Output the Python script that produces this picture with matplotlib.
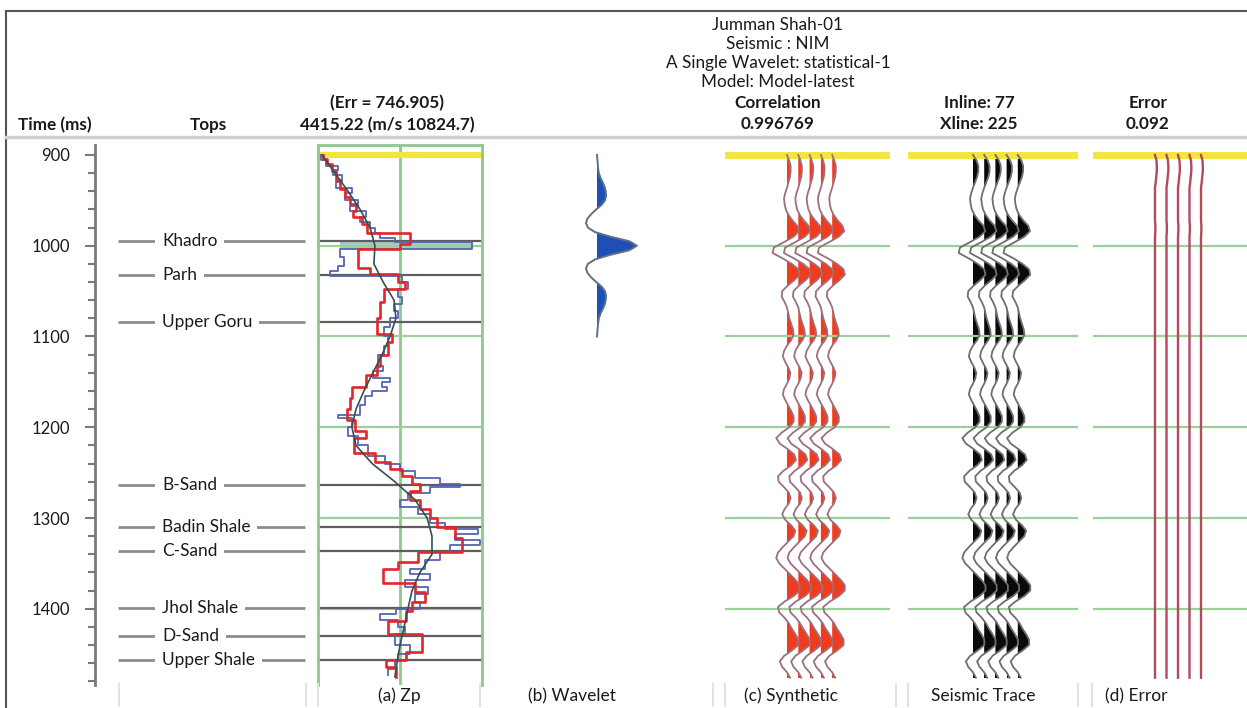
import numpy as np
import matplotlib.pyplot as plt
from matplotlib.lines import Line2D

plt.rcParams['font.family'] = ['Lato', 'DejaVu Sans']

W, H = 1247, 708

# ---- well tops (ms) ----
top_names = ['Khadro', 'Parh', 'Upper Goru', 'B-Sand', 'Badin Shale', 'C-Sand',
             'Jhol Shale', 'D-Sand', 'Upper Shale']
top_times = [995, 1032, 1084, 1264, 1310, 1336, 1399, 1430, 1457]

# ---- Zp logs (m/s), interval tops in ms ----
zp_min, zp_max = 4415.22, 10824.7

red_t = [900, 904, 910, 918, 928, 938, 946, 954, 962, 968, 976, 986, 998, 1004,
         1024, 1031, 1040, 1048, 1062, 1080, 1097, 1106, 1120, 1132, 1142, 1156,
         1168, 1180, 1192, 1204, 1212, 1228, 1238, 1246, 1254, 1262, 1270, 1280,
         1290, 1300, 1310, 1322, 1338, 1348, 1356, 1372, 1382, 1392, 1402, 1414,
         1428, 1448, 1456, 1464, 1475]
red_v = [4610, 4770, 4960, 5120, 5280, 5470, 5670, 5900, 5780, 6140, 6330, 8010,
         7620, 5980, 6450, 7540, 7820, 6990, 6840, 6720, 7310, 7150, 6840, 6720,
         6290, 5740, 5670, 5550, 5860, 6290, 5820, 6640, 7230, 7700, 8090, 8400,
         8010, 8400, 8790, 9070, 9770, 10040, 8320, 7540, 6960, 8210, 8600, 8090,
         7850, 7150, 8480, 7850, 7070, 7460]

blue_t = [900, 905, 912, 916, 922, 930, 936, 942, 950, 956, 962, 968, 974, 980,
          986, 992, 996, 1004, 1012, 1022, 1028, 1033, 1040, 1048, 1056, 1064,
          1072, 1080, 1090, 1100, 1110, 1120, 1132, 1138, 1146, 1150, 1156, 1160,
          1166, 1176, 1186, 1190, 1200, 1210, 1220, 1232, 1240, 1248, 1256, 1262,
          1266, 1272, 1280, 1288, 1296, 1306, 1312, 1318, 1324, 1330, 1338, 1346,
          1356, 1362, 1368, 1376, 1384, 1392, 1400, 1406, 1412, 1420, 1428, 1440,
          1450, 1458, 1466, 1473]
blue_v = [4530, 4730, 5200, 5000, 5350, 5120, 5740, 5470, 5980, 5670, 6290, 6060,
          6450, 6640, 6840, 7420, 10430, 5280, 5430, 5200, 4880, 7700, 7930, 7540,
          7700, 7390, 7540, 7230, 6990, 7150, 6990, 6760, 6960, 6560, 7230, 6920,
          7110, 6530, 6250, 6060, 5200, 5740, 5590, 5980, 6370, 7030, 7620, 8210,
          9180, 9960, 8790, 7930, 7620, 8320, 8790, 9380, 10670, 9770, 10750, 9570,
          9180, 8600, 8010, 8790, 7810, 8710, 8210, 8400, 7460, 6840, 7540, 7820,
          7420, 8010, 7540, 7420, 7150]

model_t = [900, 920, 940, 960, 980, 1000, 1020, 1040, 1060, 1080, 1100, 1120,
           1140, 1160, 1180, 1200, 1220, 1240, 1260, 1280, 1300, 1320, 1340, 1360,
           1380, 1400, 1420, 1440, 1460, 1475]
model_v = [4570, 5080, 5590, 6060, 6450, 6640, 6600, 6960, 7390, 7460, 7230, 6920,
           6560, 6210, 5900, 5740, 5900, 6530, 7420, 8210, 8680, 8870, 8870, 8400,
           8090, 7930, 7780, 7620, 7500, 7420]

# ---- wavelet (lag in ms, normalised amplitude) ----
wav_lag = np.arange(-100, 101, 5)
wav_amp = [0.00, 0.01, 0.02, 0.03, 0.05, 0.09, 0.15, 0.20, 0.23, 0.24, 0.21, 0.12,
           -0.02, -0.15, -0.25, -0.29, -0.24, -0.05, 0.35, 0.85, 1.05, 0.85, 0.35,
           -0.05, -0.24, -0.29, -0.25, -0.15, -0.02, 0.12, 0.21, 0.24, 0.23, 0.20,
           0.15, 0.09, 0.05, 0.03, 0.02, 0.01, 0.00]

# ---- synthetic and seismic traces, 6 ms sampling ----
trace_t = np.arange(900, 1477, 6)
synthetic = [0.00, 0.18, 0.30, 0.30, 0.25, 0.12, 0.00, -0.15, -0.25, -0.20, -0.10,
             0.12, 0.45, 0.85, 1.00, 0.55, -0.25, -1.10, -1.20, -0.35, 0.40, 0.95,
             1.05, 0.60, 0.05, -0.40, -0.45, -0.20, 0.00, 0.10, 0.20, 0.35, 0.50,
             0.55, 0.35, 0.00, -0.25, -0.35, -0.15, 0.10, 0.28, 0.20, 0.00, -0.25,
             -0.35, -0.15, 0.10, 0.35, 0.55, 0.55, 0.20, -0.45, -0.90, -0.60, 0.05,
             0.60, 0.75, 0.35, -0.30, -0.75, -0.70, -0.25, 0.15, 0.30, 0.15, -0.20,
             -0.40, -0.15, 0.35, 0.70, 0.55, 0.10, -0.35, -0.75, -0.90, -0.65, -0.20,
             0.25, 0.70, 1.05, 1.05, 0.55, -0.20, -0.75, -0.65, -0.20, 0.15, 0.40,
             0.70, 0.95, 0.95, 0.40, -0.25, -0.60, -0.40, 0.00, 0.25]
seismic = [0.00, 0.30, 0.45, 0.45, 0.35, 0.18, 0.00, -0.15, -0.25, -0.20, -0.10,
           0.12, 0.45, 0.88, 1.03, 0.55, -0.25, -1.10, -1.20, -0.35, 0.40, 0.95,
           1.05, 0.60, 0.05, -0.40, -0.45, -0.20, 0.00, 0.10, 0.20, 0.35, 0.50,
           0.55, 0.35, 0.00, -0.25, -0.35, -0.15, 0.10, 0.28, 0.20, 0.00, -0.25,
           -0.35, -0.15, 0.10, 0.35, 0.55, 0.55, 0.20, -0.45, -0.90, -0.60, 0.05,
           0.60, 0.75, 0.35, -0.30, -0.75, -0.70, -0.25, 0.15, 0.30, 0.15, -0.20,
           -0.40, -0.15, 0.35, 0.70, 0.55, 0.10, -0.35, -0.75, -0.90, -0.65, -0.20,
           0.25, 0.70, 1.05, 1.05, 0.55, -0.20, -0.75, -0.65, -0.20, 0.15, 0.40,
           0.70, 0.95, 0.95, 0.40, -0.25, -0.60, -0.40, 0.00, 0.25]
synthetic = np.array(synthetic)
seismic = np.array(seismic)
error = seismic - synthetic

n_copies = 5
t_top, t_bot = 889, 1484
grid_times = [1000, 1100, 1200, 1300, 1400]

YELLOW = '#f3e53f'
GREEN = '#9bd09b'

fig = plt.figure(figsize=(W / 100, H / 100), dpi=100)


def panel(x0, x1, y0=145, y1=685):
    ax = fig.add_axes([x0 / W, 1 - y1 / H, (x1 - x0) / W, (y1 - y0) / H])
    ax.set_ylim(t_bot, t_top)
    ax.patch.set_alpha(0)
    for s in ax.spines.values():
        s.set_visible(False)
    ax.set_xticks([])
    ax.set_yticks([])
    return ax


def fig_line(xs, ys, **kw):
    fig.add_artist(Line2D([x / W for x in xs], [1 - y / H for y in ys], **kw))


def log_steps(t, v):
    # vertical blocky log: each value holds until the next interval top
    tt = np.repeat(t, 2)[1:-1]
    vv = np.repeat(v, 2)
    return vv, tt


# frame and header rule
fig_line([6, 6], [11, 708], color='#555555', lw=1.5)
fig_line([6, W], [11, 11], color='#555555', lw=1.5)
fig_line([6, W], [137, 137], color='#cfcfcf', lw=2.5)

# ---- header text ----
def head(x, y, s, bold=False):
    fig.text(x / W, 1 - y / H, s, ha='center', va='center', fontsize=12.3,
             fontweight='bold' if bold else 'normal', color='#1a1a1a')

head(55, 125, 'Time (ms)', True)
head(208, 125, 'Tops', True)
head(387, 103, '(Err = 746.905)', True)
head(387, 125, '4415.22 (m/s 10824.7)', True)
for y, s in zip([25, 44, 63, 82], ['Jumman Shah-01', 'Seismic : NIM',
                                   'A Single Wavelet: statistical-1',
                                   'Model: Model-latest']):
    head(778, y, s)
head(778, 103, 'Correlation', True)
head(778, 124, '0.996769', True)
head(979, 103, 'Inline: 77', True)
head(979, 124, 'Xline: 225', True)
head(1148, 103, 'Error', True)
head(1148, 124, '0.092', True)

# ---- time axis and tops ----
ax_t = panel(95, 310)
ax_t.set_xlim(95, 310)
ax_t.spines['left'].set_visible(True)
ax_t.spines['left'].set_color('#7a7a7a')
ax_t.spines['left'].set_linewidth(2)
ax_t.set_yticks(np.arange(900, 1401, 100))
ax_t.set_yticks(np.arange(920, 1481, 20), minor=True)
ax_t.tick_params(axis='y', which='major', length=7, width=1.5, color='#7a7a7a',
                 pad=11, labelsize=12, labelcolor='#1a1a1a')
ax_t.tick_params(axis='y', which='minor', length=5, width=1.5, color='#7a7a7a')
for name, t in zip(top_names, top_times):
    ax_t.hlines(t, 118, 305, color='#8c8c8c', lw=2)
    ax_t.text(162, t, name, ha='left', va='center', fontsize=12.4, color='#1a1a1a',
              bbox=dict(facecolor='white', edgecolor='none', pad=5))

# ---- (a) Zp ----
ax_z = panel(318, 482)
ax_z.set_xlim(zp_min, zp_max)
for side in ['left', 'right', 'top']:
    ax_z.spines[side].set_visible(True)
    ax_z.spines[side].set_color('#8dc98d')
    ax_z.spines[side].set_linewidth(2)
ax_z.axvline((zp_min + zp_max) / 2, color='#8dc98d', lw=2)
for t in grid_times:
    ax_z.axhline(t, color=GREEN, lw=1.6)
for t in top_times:
    ax_z.axhline(t, color='#5e5e5e', lw=1.6)
ax_z.axhline(900, color=YELLOW, lw=4.5)
ax_z.fill_betweenx([996, 1004], 5280, 10430, color='#a7c8c4', lw=0)
bx, bt = log_steps(blue_t, blue_v)
ax_z.plot(bx, bt, color='#5565b0', lw=1.3)
rx, rt = log_steps(red_t, red_v)
ax_z.plot(rx, rt, color='#e3262b', lw=1.9)
ax_z.plot(model_v, model_t, color='#34504f', lw=1.2)

# ---- (b) wavelet ----
ax_w = panel(520, 680)
wav_gain = 38
ax_w.set_xlim(-77 / wav_gain, 83 / wav_gain)
wt = 1000 + wav_lag
wa = np.array(wav_amp)
ax_w.fill_betweenx(wt, 0, wa, where=wa > 0, interpolate=True, color='#1d4fb5', lw=0)
ax_w.plot(wa, wt, color='#5f6f86', lw=1.4)

# ---- (c) synthetic, seismic, (d) error ----
def trace_panel(x0, x1, base_px, spacing, amp, line_c, fill_c, lw, fill=True):
    ax = panel(x0, x1)
    ax.set_xlim((x0 - base_px) / spacing, (x1 - base_px) / spacing)
    for t in grid_times:
        ax.axhline(t, color=GREEN, lw=1.6)
    ax.axhline(900, color=YELLOW, lw=5)
    for i in range(n_copies):
        x = i + 1.06 * amp
        if fill:
            ax.fill_betweenx(trace_t, i, x, where=amp > 0, interpolate=True,
                             color=fill_c, lw=0)
        ax.plot(x, trace_t, color=line_c, lw=lw)
    return ax

trace_panel(725, 890, 787, 11.3, synthetic, '#9c6f80', '#f03c1c', 1.3)
trace_panel(908, 1078, 973, 11.2, seismic, '#6e6e6e', '#0a0a0a', 1.3)
trace_panel(1093, W, 1155, 11.5, error, '#b24a5c', None, 1.7, fill=False)

# ---- bottom captions ----
for x in [119, 306, 318, 480, 713, 725, 896, 908, 1078, 1092]:
    fig_line([x, x], [684, 706], color='#e2e2e2', lw=1.5)
for x, s in zip([399, 572, 791, 983, 1136],
                ['(a) Zp', '(b) Wavelet', '(c) Synthetic', 'Seismic Trace',
                 '(d) Error']):
    fig.text(x / W, 1 - 696 / H, s, ha='center', va='center', fontsize=12.5,
             color='#1a1a1a')

fig.savefig('out.png', dpi=100)
